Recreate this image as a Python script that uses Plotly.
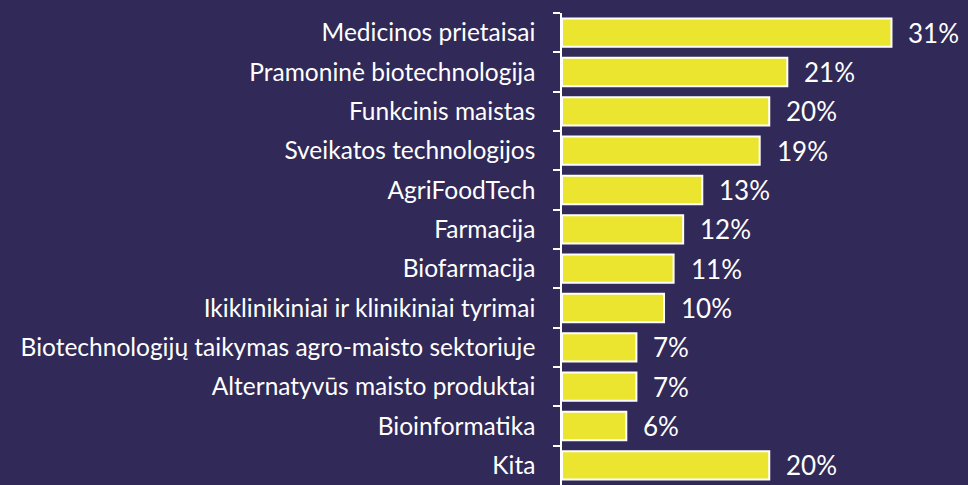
import plotly.graph_objects as go

categories = [
    "Medicinos prietaisai",
    "Pramoninė biotechnologija",
    "Funkcinis maistas",
    "Sveikatos technologijos",
    "AgriFoodTech",
    "Farmacija",
    "Biofarmacija",
    "Ikiklinikiniai ir klinikiniai tyrimai",
    "Biotechnologijų taikymas agro-maisto sektoriuje",
    "Alternatyvūs maisto produktai",
    "Bioinformatika",
    "Kita",
]
# bar lengths (percent)
values = [31.0, 21.2, 19.5, 18.6, 13.2, 11.4, 10.5, 9.6, 7.0, 7.0, 6.05, 19.5]
# printed value labels
value_labels = ["31%", "21%", "20%", "19%", "13%", "12%", "11%", "10%", "7%", "7%", "6%", "20%"]

BG = "#312957"
BAR = "#ECE530"
FONT = "Lato, Calibri, sans-serif"

fig = go.Figure()
fig.add_trace(go.Bar(
    x=values, y=categories, orientation="h",
    marker=dict(color=BAR, line=dict(color="white", width=2)),
    width=0.72,
    hoverinfo="skip",
))

for c, v, t in zip(categories, values, value_labels):
    fig.add_annotation(x=v, y=c, text=t, showarrow=False, xanchor="left",
                       xshift=15, font=dict(color="white", size=26, family=FONT))

fig.update_layout(
    width=968, height=485,
    paper_bgcolor=BG, plot_bgcolor=BG,
    margin=dict(l=562, r=0, t=13, b=0),
    showlegend=False,
    xaxis=dict(range=[0, 38.2], visible=False, fixedrange=True),
    yaxis=dict(
        categoryorder="array", categoryarray=categories, autorange="reversed",
        showline=True, linecolor="white", linewidth=1.5,
        ticks="outside", tickson="boundaries", ticklen=7, tickcolor="white", tickwidth=1.5,
        tickfont=dict(color="white", size=24.5, family=FONT),
        ticklabelstandoff=20,
        showgrid=False, zeroline=False, fixedrange=True,
    ),
)

fig.write_html(
    "out.html",
    config={"displayModeBar": False},
    post_script="document.body.style.margin='0';document.body.style.overflow='hidden';",
)
